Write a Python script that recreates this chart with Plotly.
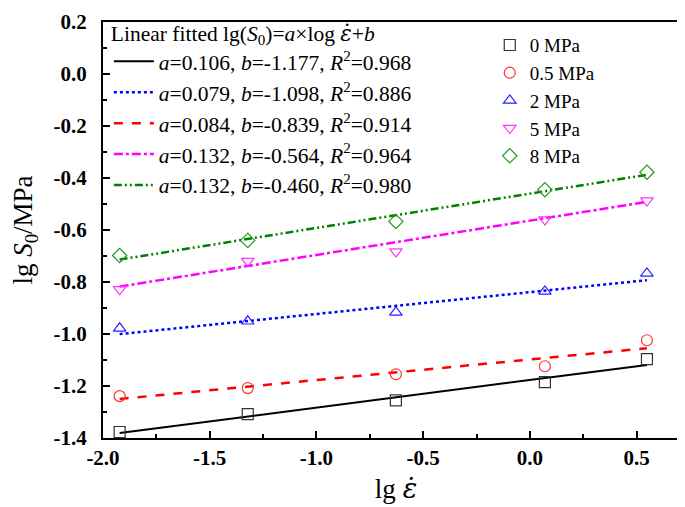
import plotly.graph_objects as go

# ---- data ----
x_lg_rate = [-1.922, -1.322, -0.628, 0.070, 0.548]
pressures = ["0 MPa", "0.5 MPa", "2 MPa", "5 MPa", "8 MPa"]
y_0 = [-1.377, -1.308, -1.255, -1.185, -1.097]
y_05 = [-1.239, -1.208, -1.155, -1.124, -1.024]
y_2 = [-0.978, -0.951, -0.917, -0.836, -0.767]
y_5 = [-0.828, -0.720, -0.683, -0.560, -0.487]
y_8 = [-0.698, -0.640, -0.567, -0.445, -0.378]

# fitted line coefficients as drawn for each pressure
fit_a = [0.106, 0.079, 0.084, 0.132, 0.132]
fit_b = [-1.177, -1.098, -0.839, -0.564, -0.460]

# legend text rows (as printed in the figure)
leg_a = ["0.106", "0.079", "0.084", "0.132", "0.132"]
leg_b = ["-1.177", "-1.098", "-0.839", "-0.564", "-0.460"]
leg_r2 = ["0.968", "0.886", "0.914", "0.964", "0.980"]

x_ticks = [-2.0, -1.5, -1.0, -0.5, 0.0, 0.5]
x_ticktext = ["-2.0", "-1.5", "-1.0", "-0.5", "0.0", "0.5"]
x_minor = [-1.75, -1.25, -0.75, -0.25, 0.25, 0.75]
y_ticks = [0.2, 0.0, -0.2, -0.4, -0.6, -0.8, -1.0, -1.2, -1.4]
y_ticktext = ["0.2", "0.0", "-0.2", "-0.4", "-0.6", "-0.8", "-1.0", "-1.2", "-1.4"]
y_minor = [0.1, -0.1, -0.3, -0.5, -0.7, -0.9, -1.1, -1.3]

# ---- styles ----
series_y = [y_0, y_05, y_2, y_5, y_8]
marker_colors = ["#333333", "#ff3333", "#2222ff", "#ff33ff", "#229922"]
marker_symbols = ["square-open", "circle-open", "triangle-up-open", "triangle-down-open", "diamond-open"]
line_colors = ["#000000", "#ff0000", "#0000ff", "#ff00ff", "#008000"]
line_dash = ["solid", "dash", "dot", "dashdot", "8px,3px,2px,3px,2px,3px"]
line_w = [2, 2.5, 2.5, 2.5, 2.5]

# legend sample order as printed: black, blue, red, magenta, green
leg_style_idx = [0, 2, 1, 3, 4]

FONT = "Liberation Serif, Times New Roman, serif"
EPS_DOT = "<span style=\"font-family:'DejaVu Serif'\"><i>ε̇</i></span>"

fig = go.Figure()

# fitted lines
xr = [min(x_lg_rate), max(x_lg_rate)]
for i in range(5):
    fig.add_trace(go.Scatter(
        x=xr, y=[fit_a[i] * xv + fit_b[i] for xv in xr],
        mode="lines", line=dict(color=line_colors[i], dash=line_dash[i], width=line_w[i]),
        showlegend=False, hoverinfo="skip"))

# data points
for i in range(5):
    fig.add_trace(go.Scatter(
        x=x_lg_rate, y=series_y[i], mode="markers", name=pressures[i],
        marker=dict(symbol=marker_symbols[i], size=11, color=marker_colors[i],
                    line=dict(width=1.2, color=marker_colors[i])),
        legend="legend2"))

# legend entries for fitted lines
for row, si in enumerate(leg_style_idx):
    fig.add_trace(go.Scatter(
        x=[None], y=[None], mode="lines",
        line=dict(color=line_colors[si], dash=line_dash[si], width=line_w[si]),
        name=f"<i>a</i>={leg_a[row]}, <i>b</i>={leg_b[row]}, <i>R</i><sup>2</sup>={leg_r2[row]}",
        legend="legend"))

fig.update_layout(
    width=685, height=507,
    margin=dict(l=95, r=2, t=13, b=77),
    paper_bgcolor="white", plot_bgcolor="white",
    font=dict(family=FONT, size=20, color="black"),
    legend=dict(
        title=dict(text="Linear fitted lg(<i>S</i><sub>0</sub>)=<i>a</i>×log " + EPS_DOT + "+<i>b</i>",
                   font=dict(family=FONT, size=21.5)),
        x=0.01, y=1.022, xanchor="left", yanchor="top",
        bgcolor="rgba(0,0,0,0)", font=dict(family=FONT, size=21.5),
        tracegroupgap=0, itemwidth=40),
    legend2=dict(
        x=0.66, y=0.99, xanchor="left", yanchor="top",
        bgcolor="rgba(0,0,0,0)", font=dict(family=FONT, size=19),
        tracegroupgap=0),
    xaxis=dict(
        range=[-2.0, 0.745], showgrid=False, zeroline=False,
        showline=True, mirror=True, linewidth=2, linecolor="black",
        ticks="inside", ticklen=7, tickwidth=1.5, tickcolor="black",
        tickmode="array", tickvals=x_ticks, ticktext=["<b>" + t + "</b>" for t in x_ticktext],
        tickfont=dict(family=FONT, size=21, weight=700),
        minor=dict(tickmode="array", tickvals=x_minor, ticks="inside", ticklen=4,
                   tickwidth=1.5, tickcolor="black"),
        title=dict(text="lg " + EPS_DOT, font=dict(family=FONT, size=27), standoff=10)),
    yaxis=dict(
        range=[-1.4, 0.2], showgrid=False, zeroline=False,
        showline=True, mirror=True, linewidth=2, linecolor="black",
        ticks="inside", ticklen=7, tickwidth=1.5, tickcolor="black",
        tickmode="array", tickvals=y_ticks, ticktext=["<b>" + t + "</b>" for t in y_ticktext],
        tickfont=dict(family=FONT, size=21, weight=700),
        ticklabelstandoff=10,
        minor=dict(tickmode="array", tickvals=y_minor, ticks="inside", ticklen=4,
                   tickwidth=1.5, tickcolor="black"),
        title=dict(text="lg <i>S</i><sub>0</sub>/MPa", font=dict(family=FONT, size=27), standoff=24)),
)

fig.write_html("out.html")
